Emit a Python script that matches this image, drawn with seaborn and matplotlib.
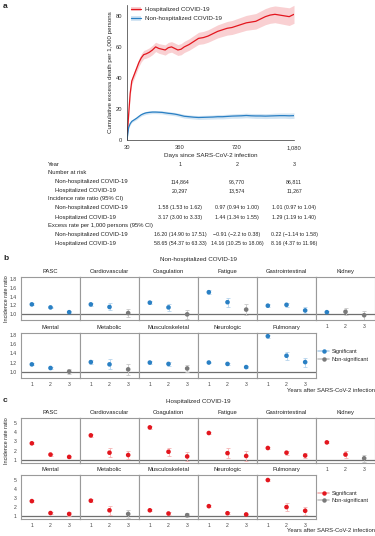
import numpy as np
import pandas as pd
import seaborn as sns
import matplotlib.pyplot as plt
from matplotlib.lines import Line2D
from matplotlib.patches import Patch

sns.set_theme(style="white")
plt.rcParams['font.family'] = ['Liberation Sans', 'DejaVu Sans']
plt.rcParams['axes.unicode_minus'] = True

# ---- panel a: cumulative excess death ----
days = [30, 40, 50, 60, 75, 90, 105, 120, 135, 150, 170, 190, 210, 230, 250, 270, 290,
        310, 330, 350, 370, 390, 420, 450, 480, 510, 540, 570, 600, 630, 660, 690, 720,
        750, 780, 810, 840, 870, 900, 930, 960, 990, 1020, 1050, 1080]
hosp_curve = [0, 16, 30, 38, 42, 46, 50, 53, 55, 55.5, 56.5, 58, 60, 59, 58.5, 58, 59.5,
              60, 59, 58, 58.5, 60, 61.5, 63.5, 65.5, 66, 67, 68.5, 70, 71, 72, 72.5, 73.5,
              74.5, 75.5, 76, 76.5, 78, 79.5, 80.5, 81, 80.5, 80, 79.5, 81]
hosp_ci = [0, 1.5, 2, 2.2, 2.3, 2.4, 2.5, 2.6, 2.7, 2.8, 2.9, 3, 3, 3.1, 3.2, 3.3, 3.4,
           3.4, 3.5, 3.5, 3.6, 3.6, 3.7, 3.8, 3.9, 4, 4, 4.1, 4.2, 4.3, 4.4, 4.5, 4.6,
           4.7, 4.8, 4.9, 5, 5.1, 5.2, 5.3, 5.4, 5.5, 5.6, 5.7, 5.8]
nonhosp_curve = [0, 8, 10.5, 12, 13, 14, 15.2, 16.3, 17, 17.5, 17.8, 18, 18, 17.9, 17.8, 17.5,
                 17.2, 17, 16.7, 16.3, 15.8, 15.3, 15, 14.7, 14.5, 14.6, 14.7, 14.8, 15, 15,
                 15.2, 15.4, 15.5, 15.6, 15.8, 15.6, 15.5, 15.5, 15.4, 15.5, 15.6, 15.7,
                 15.7, 15.6, 15.7]
nonhosp_ci = [0, 0.6, 0.7, 0.8, 0.8, 0.9, 0.9, 0.9, 1, 1, 1, 1, 1, 1, 1, 1.1, 1.1, 1.1,
              1.1, 1.1, 1.2, 1.2, 1.2, 1.2, 1.3, 1.3, 1.3, 1.3, 1.4, 1.4, 1.4, 1.4, 1.5,
              1.5, 1.5, 1.5, 1.6, 1.6, 1.6, 1.6, 1.7, 1.7, 1.7, 1.8, 1.8]

table_years = ["1", "2", "3"]
at_risk_nonhosp = ["114,864", "96,770", "86,811"]
at_risk_hosp = ["20,297", "13,574", "11,267"]
irr_nonhosp = ["1.58 (1.53 to 1.62)", "0.97 (0.94 to 1.00)", "1.01 (0.97 to 1.04)"]
irr_hosp = ["3.17 (3.00 to 3.33)", "1.44 (1.34 to 1.55)", "1.29 (1.19 to 1.40)"]
excess_nonhosp = ["16.20 (14.90 to 17.51)", "\u22120.91 (\u22122.2 to 0.38)", "0.22 (\u22121.14 to 1.58)"]
excess_hosp = ["58.65 (54.37 to 63.33)", "14.16 (10.25 to 18.06)", "8.16 (4.37 to 11.96)"]

# ---- panels b and c: incidence rate ratios by outcome ----
outcomes = ["PASC", "Cardiovascular", "Coagulation", "Fatigue", "Gastrointestinal", "Kidney",
            "Mental", "Metabolic", "Musculoskeletal", "Neurologic", "Pulmonary"]
years = [1, 2, 3]

nonhosp_irr = [[1.22, 1.15, 1.04], [1.22, 1.16, 1.02], [1.26, 1.15, 0.99], [1.50, 1.27, 1.10],
               [1.19, 1.21, 1.08], [1.04, 1.05, 0.97], [1.16, 1.08, 1.00], [1.21, 1.16, 1.05],
               [1.20, 1.17, 1.07], [1.20, 1.17, 1.10], [1.78, 1.35, 1.21]]
nonhosp_err = [[0.02, 0.02, 0.03], [0.03, 0.08, 0.10], [0.03, 0.08, 0.10], [0.04, 0.10, 0.12],
               [0.03, 0.05, 0.07], [0.03, 0.08, 0.10], [0.02, 0.03, 0.05], [0.04, 0.11, 0.12],
               [0.03, 0.05, 0.08], [0.02, 0.02, 0.03], [0.03, 0.09, 0.10]]
nonhosp_sig = [[1, 1, 1], [1, 1, 0], [1, 1, 0], [1, 1, 0], [1, 1, 1], [1, 0, 0],
               [1, 1, 0], [1, 1, 0], [1, 1, 0], [1, 1, 1], [1, 1, 1]]

hosp_irr = [[2.8, 1.6, 1.35], [3.65, 1.8, 1.55], [4.5, 1.9, 1.4], [3.9, 1.75, 1.45],
            [2.3, 1.8, 1.5], [2.9, 1.6, 1.2], [2.65, 1.35, 1.25], [2.7, 1.65, 1.25],
            [1.65, 1.3, 1.12], [2.1, 1.33, 1.2], [4.95, 2.0, 1.6]]
hosp_err = [[0.1, 0.1, 0.12], [0.15, 0.45, 0.45], [0.15, 0.45, 0.5], [0.15, 0.55, 0.5],
            [0.1, 0.2, 0.3], [0.1, 0.35, 0.35], [0.1, 0.1, 0.2], [0.15, 0.5, 0.4],
            [0.1, 0.15, 0.25], [0.1, 0.1, 0.1], [0.15, 0.45, 0.45]]
hosp_sig = [[1, 1, 1], [1, 1, 1], [1, 1, 1], [1, 1, 1], [1, 1, 1], [1, 1, 0],
            [1, 1, 1], [1, 1, 0], [1, 1, 0], [1, 1, 1], [1, 1, 1]]

RED = "#e3161e"
BLUE = "#2a80c4"
GRAY = "#7a7a7a"
W, H = 375, 536
FS = 4.2


def box(x0, y0, x1, y1):
    return [x0 / W, 1 - y1 / H, (x1 - x0) / W, (y1 - y0) / H]


def ftext(x, y, s, **kw):
    fig.text(x / W, 1 - y / H, s, fontsize=kw.pop('fontsize', FS), va='center', **kw)


fig = plt.figure(figsize=(W / 100, H / 100), dpi=100)

# panel a
ax = fig.add_axes(box(127, 5, 294, 140))
curves = pd.DataFrame({'day': days * 2,
                       'value': hosp_curve + nonhosp_curve,
                       'group': ['Hospitalized COVID-19'] * len(days) + ['Non-hospitalized COVID-19'] * len(days)})
ax.fill_between(days, np.array(hosp_curve) - hosp_ci, np.array(hosp_curve) + hosp_ci,
                color=RED, alpha=0.2, lw=0)
ax.fill_between(days, np.array(nonhosp_curve) - nonhosp_ci, np.array(nonhosp_curve) + nonhosp_ci,
                color=BLUE, alpha=0.2, lw=0)
sns.lineplot(data=curves, x='day', y='value', hue='group',
             palette={'Hospitalized COVID-19': RED, 'Non-hospitalized COVID-19': BLUE},
             lw=0.9, legend=False, ax=ax)
ax.set_xlim(30, 1080)
ax.set_ylim(0, 87)
ax.set_xticks([30, 360, 720, 1080], ["30", "360", "720", "1,080"])
ax.set_yticks([0, 20, 40, 60, 80])
ax.tick_params(labelsize=FS, length=2, width=0.5, pad=1.5, colors='#333333')
for s in ['top', 'right']:
    ax.spines[s].set_visible(False)
for s in ['left', 'bottom']:
    ax.spines[s].set_linewidth(0.5)
    ax.spines[s].set_color('#333333')
ax.set_xlabel("Days since SARS-CoV-2 infection", fontsize=FS + 0.3, labelpad=2)
ax.set_ylabel("Cumulative excess death per 1,000 persons", fontsize=FS + 0.3, labelpad=2)
handles = [(Patch(color=RED, alpha=0.2, lw=0), Line2D([], [], color=RED, lw=0.9)),
           (Patch(color=BLUE, alpha=0.2, lw=0), Line2D([], [], color=BLUE, lw=0.9))]
ax.legend(handles, ['Hospitalized COVID-19', 'Non-hospitalized COVID-19'], loc='upper left',
          bbox_to_anchor=(-0.01, 1.03), fontsize=FS + 0.3, frameon=False,
          handlelength=1.6, handleheight=0.8, handletextpad=0.6, labelspacing=0.6)

# table under panel a
col_x = [180, 237, 294]
rows = [(164, 48, "Year", table_years), (173, 48, "Number at risk", None),
        (182, 55, "Non-hospitalized COVID-19", at_risk_nonhosp),
        (190.5, 55, "Hospitalized COVID-19", at_risk_hosp),
        (199, 48, "Incidence rate ratio (95% CI)", None),
        (208, 55, "Non-hospitalized COVID-19", irr_nonhosp),
        (217, 55, "Hospitalized COVID-19", irr_hosp),
        (225.5, 48, "Excess rate per 1,000 persons (95% CI)", None),
        (234.5, 55, "Non-hospitalized COVID-19", excess_nonhosp),
        (243, 55, "Hospitalized COVID-19", excess_hosp)]
for y, x, label, vals in rows:
    ftext(x, y, label, ha='left', color='#222222')
    if vals is not None:
        for cx, v in zip(col_x, vals):
            ftext(cx, y, v, ha='center', color='#222222', fontsize=FS - 0.4)

# panels b and c
col_edges = [21, 80, 139, 198, 257, 316, 375]


def draw_grid(label, title, label_y, row_bounds, irr, err, sig, color, light, ylim, yticks, yticklabels):
    ftext(3, label_y, label, ha='left', fontweight='bold', fontsize=6)
    ftext(198, label_y + 1, title, ha='center', fontsize=FS + 0.3)
    for i, name in enumerate(outcomes):
        r, c = divmod(i, 6)
        top, bottom = row_bounds[r]
        a = fig.add_axes(box(col_edges[c], top, col_edges[c + 1], bottom))
        d = pd.DataFrame({'year': years, 'irr': irr[i], 'err': err[i],
                          'sig': ['Significant' if s else 'Non-significant' for s in sig[i]]})
        for _, row in d.iterrows():
            a.errorbar(row['year'], row['irr'], yerr=row['err'], fmt='none',
                       ecolor=light if row['sig'] == 'Significant' else '#c8c8c8',
                       elinewidth=0.6, capsize=1.5, capthick=0.6, zorder=2)
        a.axhline(1, color='#6f6f6f', lw=0.9, zorder=1)
        sns.scatterplot(data=d, x='year', y='irr', hue='sig',
                        palette={'Significant': color, 'Non-significant': GRAY},
                        s=11, edgecolor='none', legend=False, ax=a, zorder=3)
        a.set_xlim(0.42, 3.58)
        a.set_ylim(*ylim)
        a.set_xlabel('')
        a.set_ylabel('')
        a.set_title(name, fontsize=FS, pad=2.8, color='#222222')
        for s in a.spines.values():
            s.set_color('#9a9a9a')
            s.set_linewidth(0.8)
        if c == 0:
            a.set_yticks(yticks, yticklabels)
        else:
            a.set_yticks([])
        if r == 1 or name == 'Kidney':
            a.set_xticks(years, [str(y) for y in years])
        else:
            a.set_xticks([])
        a.tick_params(labelsize=FS - 0.5, length=1.5, width=0.4, pad=1.5, colors='#444444')
    t1, b1 = row_bounds[0]
    ftext(7, (t1 + b1) / 2, "Incidence rate ratio", ha='center', rotation=90, fontsize=FS - 0.2)
    t2, b2 = row_bounds[1]
    ftext(375, b2 + 12, "Years after SARS-CoV-2 infection", ha='right', fontsize=FS)
    leg = [Line2D([], [], color=light, lw=1.2, marker='o', markersize=3.2,
                  markerfacecolor=color, markeredgecolor='none'),
           Line2D([], [], color='#c8c8c8', lw=1.2, marker='o', markersize=3.2,
                  markerfacecolor=GRAY, markeredgecolor='none')]
    fig.legend(leg, ['Significant', 'Non-significant'], loc='center left',
               bbox_to_anchor=(316 / W, 1 - (t2 + b2) / 2 / H), fontsize=FS - 0.2,
               frameon=False, handlelength=2.0, handletextpad=0.4, labelspacing=0.5,
               borderaxespad=0)


draw_grid('b', 'Non-hospitalized COVID-19', 259, [(277, 320), (333, 378)],
          nonhosp_irr, nonhosp_err, nonhosp_sig, BLUE, '#b5d3ec',
          (0.86, 1.85), [1.0, 1.2, 1.4, 1.6, 1.8], ["1.0", "1.2", "1.4", "1.6", "1.8"])
draw_grid('c', 'Hospitalized COVID-19', 400, [(418, 463), (475, 519)],
          hosp_irr, hosp_err, hosp_sig, RED, '#f5b3b3',
          (0.7, 5.5), [1, 2, 3, 4, 5], ["1", "2", "3", "4", "5"])

ftext(3, 6, 'a', ha='left', fontweight='bold', fontsize=6)

fig.savefig('out.png', dpi=100)
